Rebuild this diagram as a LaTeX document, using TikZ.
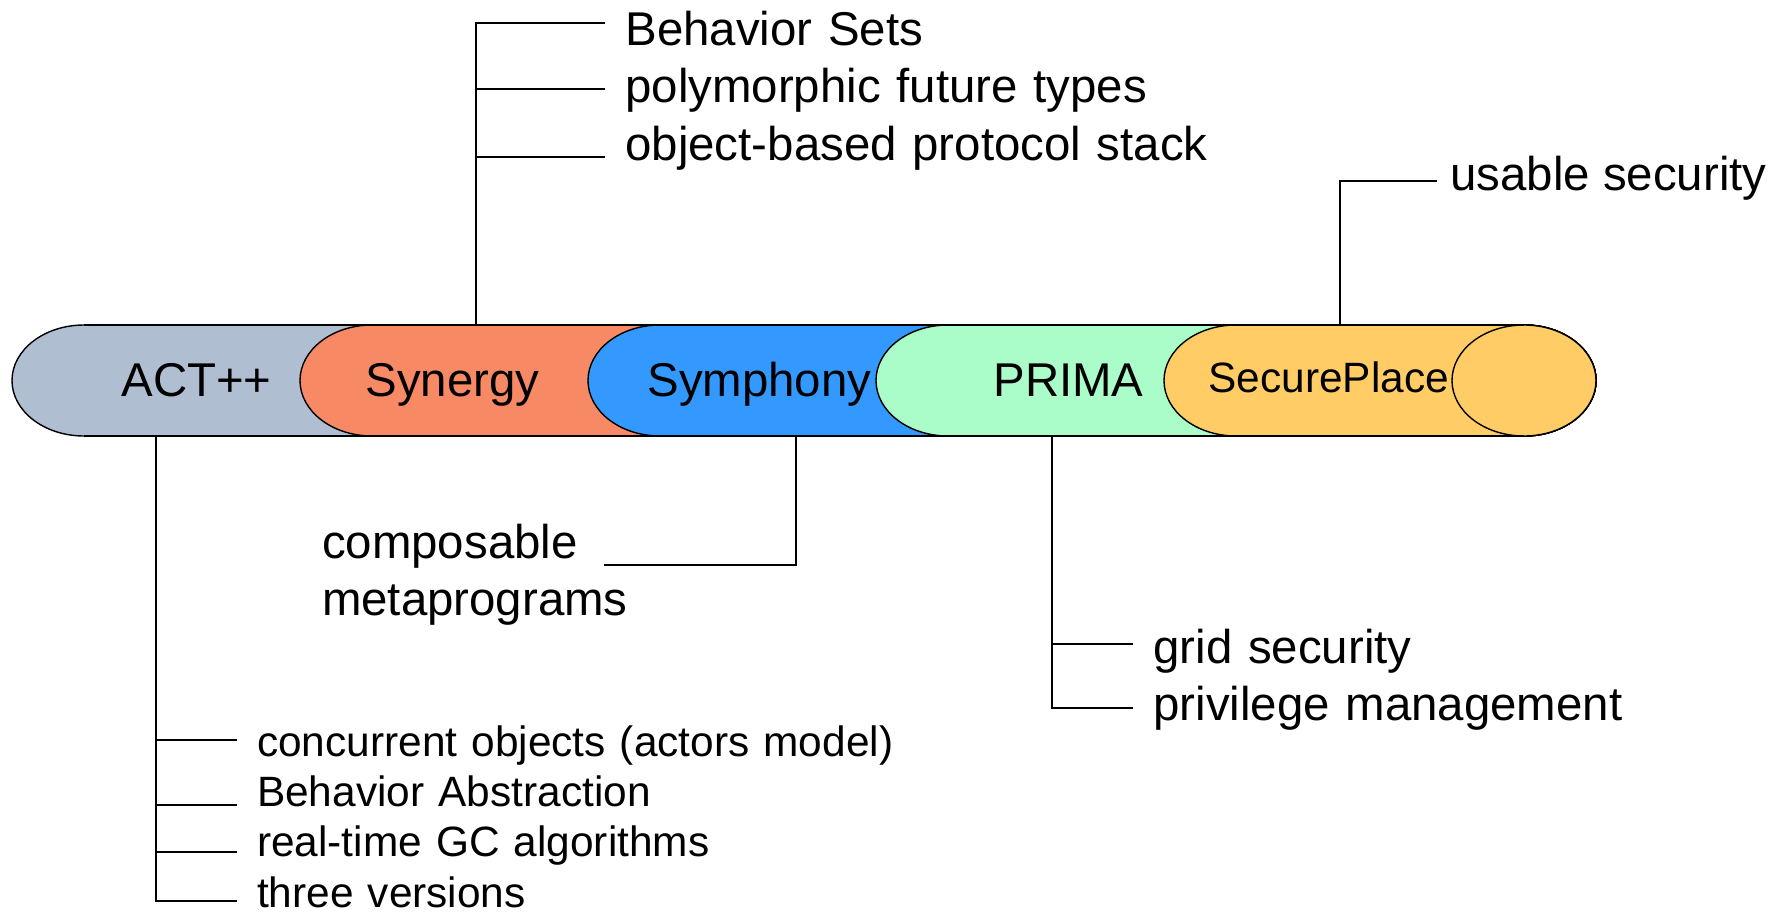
\documentclass[tikz,border=0pt]{standalone}
\usepackage{fontspec}
\setmainfont{Liberation Sans}
\definecolor{actcol}{RGB}{176,190,210}
\definecolor{syncol}{RGB}{247,137,101}
\definecolor{symcol}{RGB}{51,153,255}
\definecolor{primacol}{RGB}{170,252,200}
\definecolor{spcol}{RGB}{255,204,102}
\begin{document}
\begin{tikzpicture}[x=0.5pt, y=-0.5pt, inner sep=0pt,
        big/.style={font=\fontsize{23.7}{28}\selectfont},
        small/.style={font=\fontsize{21.2}{25}\selectfont},
        note/.style={text width=12cm, align=left, text height=17pt, text depth=1pt},
        seg/.style={draw=black, line width=0.7pt},
        wire/.style={draw=black, line width=0.9pt}]

        \useasboundingbox (0,0) rectangle (1790,916);

        % Bar segments
        \draw[seg, fill=actcol] (84,325) arc[start angle=270, end angle=90, x radius=72, y radius=55.5] -- (1524,436) arc[start angle=90, end angle=-90, x radius=72, y radius=55.5] -- cycle;
        \draw[seg, fill=syncol] (372,325) arc[start angle=270, end angle=90, x radius=72, y radius=55.5] -- (1524,436) arc[start angle=90, end angle=-90, x radius=72, y radius=55.5] -- cycle;
        \draw[seg, fill=symcol] (660,325) arc[start angle=270, end angle=90, x radius=72, y radius=55.5] -- (1524,436) arc[start angle=90, end angle=-90, x radius=72, y radius=55.5] -- cycle;
        \draw[seg, fill=primacol] (948,325) arc[start angle=270, end angle=90, x radius=72, y radius=55.5] -- (1524,436) arc[start angle=90, end angle=-90, x radius=72, y radius=55.5] -- cycle;
        \draw[seg, fill=spcol] (1236,325) arc[start angle=270, end angle=90, x radius=72, y radius=55.5] -- (1524,436) arc[start angle=90, end angle=-90, x radius=72, y radius=55.5] -- cycle;
        \draw[seg, fill=spcol] (1524,380.5) ellipse[x radius=72, y radius=55.5];
        \draw[line width=1pt] (84,325) -- (1524,325) (84,436) -- (1524,436);

        % Bar labels
        \node[big, anchor=base west] (act) at (121,396.7) {ACT++};
        \node[big, anchor=base west] (syn) at (365,396.7) {Synergy};
        \node[big, anchor=base west] (sym) at (647,396.7) {Symphony};
        \node[big, anchor=base west] (prima) at (993,396.7) {PRIMA};
        \node[small, anchor=base west] (sp) at (1208,392) {SecurePlace};

        % Synergy notes
        \node[big, note, anchor=base west] (bsets) at (625,45) {Behavior Sets};
        \node[big, note, node distance=28.75pt, below of=bsets] (polyfut) {polymorphic future types};
        \node[big, note, node distance=28.75pt, below of=polyfut] (protstack) {object-based protocol stack};
        \coordinate (syn-stem) at (475.7,325);
        \coordinate (syn-t1) at (605,22.7);
        \coordinate (syn-t2) at (605,89.3);
        \coordinate (syn-t3) at (605,156.7);
        \draw[wire] (syn-stem) |- (syn-t1);
        \draw[wire] (syn-stem |- syn-t2) -- (syn-t2);
        \draw[wire] (syn-stem |- syn-t3) -- (syn-t3);

        % SecurePlace note
        \node[big, anchor=base west] (usable) at (1450,190) {usable security};
        \coordinate (sp-stem) at (1340,325);
        \coordinate (sp-t1) at (1437,181);
        \draw[wire] (sp-stem) |- (sp-t1);

        % Symphony note
        \node[big, note, anchor=base west] (compos) at (321.7,558) {composable};
        \node[big, note, node distance=28.5pt, below of=compos] (metaprog) {metaprograms};
        \coordinate (sym-stem) at (795.7,436);
        \coordinate (sym-t1) at (604,565);
        \draw[wire] (sym-stem) |- (sym-t1);

        % PRIMA notes
        \node[big, note, anchor=base west] (gridsec) at (1153,663.3) {grid security};
        \node[big, note, node distance=28.5pt, below of=gridsec] (privmgmt) {privilege management};
        \coordinate (prima-stem) at (1051.7,436);
        \coordinate (prima-t1) at (1132.7,644.3);
        \coordinate (prima-t2) at (1132.7,708.3);
        \draw[wire] (prima-stem) |- (prima-t2);
        \draw[wire] (prima-stem |- prima-t1) -- (prima-t1);

        % ACT++ notes
        \node[small, note, anchor=base west] (concobj) at (256.7,756) {concurrent objects (actors model)};
        \node[small, note, node distance=25.2pt, below of=concobj] (behabs) {Behavior Abstraction};
        \node[small, note, node distance=25.2pt, below of=behabs] (rtgc) {real-time GC algorithms};
        \node[small, note, node distance=25.2pt, below of=rtgc] (threever) {three versions};
        \coordinate (act-stem) at (155.7,436);
        \coordinate (act-t1) at (237,739.7);
        \coordinate (act-t2) at (237,804.8);
        \coordinate (act-t3) at (237,851.6);
        \coordinate (act-t4) at (237,900.7);
        \draw[wire] (act-stem) |- (act-t4);
        \draw[wire] (act-stem |- act-t1) -- (act-t1);
        \draw[wire] (act-stem |- act-t2) -- (act-t2);
        \draw[wire] (act-stem |- act-t3) -- (act-t3);

    \end{tikzpicture}
\end{document}
